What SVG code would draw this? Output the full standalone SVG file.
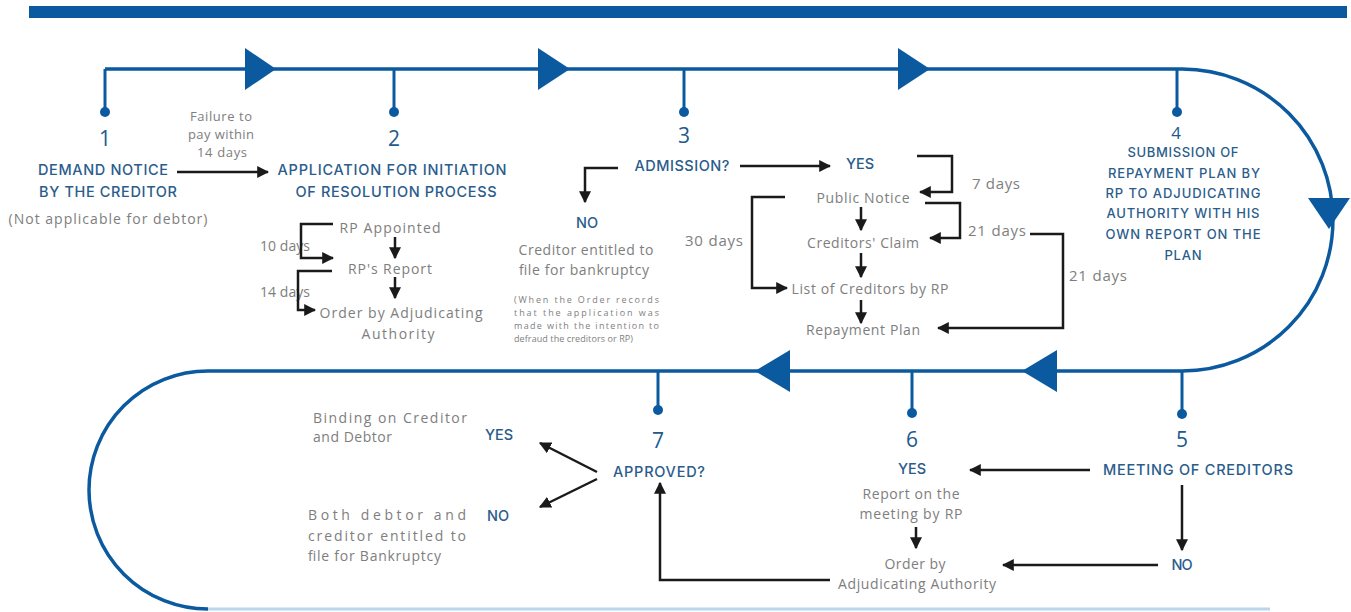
<svg xmlns="http://www.w3.org/2000/svg" width="1351" height="612" viewBox="0 0 1351 612">
<style>
text{font-family:"Open Sans","Liberation Sans",sans-serif;dominant-baseline:central;text-anchor:middle}
.h{fill:#2b5d8c;font-family:Inter,"Open Sans",sans-serif;font-weight:500;font-size:14.5px}
.h4{fill:#2b5d8c;font-family:Inter,"Open Sans",sans-serif;font-weight:500;font-size:13px}
.num{fill:#215a8e;font-size:21px}
.g{fill:#7e7e7e;font-size:14px}
.gs{fill:#7e7e7e;font-size:13px}
.gd{fill:#7e7e7e;font-size:15px}
.note{fill:#808080;font-size:9px}
.l{text-anchor:start}
.trk{fill:none;stroke:#0b5aa0;stroke-width:3.5}
.stem{stroke:#0b5aa0;stroke-width:3}
.dot{fill:#0b5aa0}
.tri{fill:#0b5aa0}
.ca{fill:none;stroke:#1a1a1a;stroke-width:2.5;marker-end:url(#ah)}
</style>
<defs>
<marker id="ah" viewBox="0 0 10 10" refX="9" refY="5" markerWidth="12" markerHeight="12" markerUnits="userSpaceOnUse" orient="auto">
<path d="M0,0 L10,5 L0,10 z" fill="#1a1a1a"/>
</marker>
</defs>
<rect width="1351" height="612" fill="#ffffff"/>
<rect x="29" y="6" width="1318" height="12" fill="#0b5aa0"/>

<g id="track">
<path class="trk" d="M105,69 H1182 A151,151 0 0 1 1182,371 H208 A119,119 0 0 0 208,609"/>
<path d="M208,609 H1270" fill="none" stroke="#b9d5ef" stroke-width="3"/>
<polygon class="tri" points="245,48 245,90 276,69"/>
<polygon class="tri" points="538,48 538,90 570,69"/>
<polygon class="tri" points="898,48 898,90 930,69"/>
<polygon class="tri" points="1308,198 1350,198 1329,229"/>
<polygon class="tri" points="1022,371 1057,350 1057,392"/>
<polygon class="tri" points="755,371 790,350 790,392"/>
</g>

<g id="node1">
<line class="stem" x1="105" y1="69" x2="105" y2="112"/><circle class="dot" cx="105" cy="112" r="5"/>
<text class="num" x="105" y="138">1</text>
<text class="h" x="103" y="169" textLength="130">DEMAND NOTICE</text>
<text class="h" x="108" y="191" textLength="138">BY THE CREDITOR</text>
<text class="g" x="108" y="218" textLength="199">(Not applicable for debtor)</text>
</g>

<g id="label-failure">
<text class="gs" x="221" y="116" textLength="62">Failure to</text>
<text class="gs" x="221" y="134" textLength="66">pay within</text>
<text class="gs" x="222" y="152" textLength="50">14 days</text>
</g>

<g id="node2">
<line class="stem" x1="394" y1="69" x2="394" y2="112"/><circle class="dot" cx="394" cy="112" r="5"/>
<text class="num" x="394" y="138">2</text>
<text class="h" x="392" y="169" textLength="229">APPLICATION FOR INITIATION</text>
<text class="h" x="396" y="191" textLength="201">OF RESOLUTION PROCESS</text>
</g>
<g id="rp-appointed"><text class="g" x="390" y="227" textLength="101">RP Appointed</text></g>
<g id="rp-report"><text class="g" x="390" y="268" textLength="84">RP's Report</text></g>
<g id="order-aa-1">
<text class="g" x="401" y="312" textLength="163">Order by Adjudicating</text>
<text class="g" x="398" y="333" textLength="73">Authority</text>
</g>
<g id="label-days-2">
<text class="g" x="285" y="245" textLength="50">10 days</text>
<text class="g" x="285" y="291" textLength="50">14 days</text>
</g>

<g id="node3">
<line class="stem" x1="684" y1="69" x2="684" y2="112"/><circle class="dot" cx="684" cy="112" r="5"/>
<text class="num" x="684" y="135">3</text>
<text class="h" x="682" y="165" textLength="95">ADMISSION?</text>
</g>
<g id="no-3">
<text class="h" x="587" y="222" textLength="22">NO</text>
<text class="g" x="586" y="249" textLength="135">Creditor entitled to</text>
<text class="g" x="584" y="269" textLength="130">file for bankruptcy</text>
<text class="note l" x="514" y="299" textLength="145">(When the Order records</text>
<text class="note l" x="514" y="312" textLength="145">that the application was</text>
<text class="note l" x="514" y="325" textLength="145">made with the intention to</text>
<text class="note l" x="514" y="338" textLength="119">defraud the creditors or RP)</text>
</g>
<g id="yes-3"><text class="h" x="860" y="163" textLength="28">YES</text></g>
<g id="public-notice"><text class="g" x="863" y="197" textLength="93">Public Notice</text></g>
<g id="creditors-claim"><text class="g" x="863" y="242" textLength="112">Creditors' Claim</text></g>
<g id="list-creditors"><text class="g" x="870" y="288" textLength="157">List of Creditors by RP</text></g>
<g id="repayment-plan"><text class="g" x="863" y="329" textLength="114">Repayment Plan</text></g>
<g id="label-days-3">
<text class="gd" x="714" y="240" textLength="58">30 days</text>
<text class="gd" x="996" y="183" textLength="48">7 days</text>
<text class="gd" x="997" y="230" textLength="58">21 days</text>
<text class="gd" x="1098" y="275" textLength="58">21 days</text>
</g>

<g id="node4">
<line class="stem" x1="1177" y1="69" x2="1177" y2="112"/><circle class="dot" cx="1177" cy="112" r="5"/>
<text class="num" x="1176" y="132" style="font-size:17px">4</text>
<text class="h4" x="1183" y="152" textLength="111">SUBMISSION OF</text>
<text class="h4" x="1184" y="173" textLength="152">REPAYMENT PLAN BY</text>
<text class="h4" x="1183" y="193" textLength="155">RP TO ADJUDICATING</text>
<text class="h4" x="1183" y="213" textLength="153">AUTHORITY WITH HIS</text>
<text class="h4" x="1183" y="234" textLength="155">OWN REPORT ON THE</text>
<text class="h4" x="1183" y="255" textLength="37">PLAN</text>
</g>

<g id="node5">
<line class="stem" x1="1182" y1="371" x2="1182" y2="414"/><circle class="dot" cx="1182" cy="414" r="5"/>
<text class="num" x="1182" y="439">5</text>
<text class="h" x="1198" y="469" textLength="190">MEETING OF CREDITORS</text>
</g>
<g id="no-5"><text class="h" x="1182" y="564" textLength="21">NO</text></g>

<g id="node6">
<line class="stem" x1="912" y1="371" x2="912" y2="413"/><circle class="dot" cx="912" cy="413" r="5"/>
<text class="num" x="912" y="439">6</text>
<text class="h" x="912" y="468" textLength="28">YES</text>
<text class="g" x="911" y="493" textLength="97">Report on the</text>
<text class="g" x="911" y="513" textLength="103">meeting by RP</text>
</g>
<g id="order-aa-2">
<text class="g" x="915" y="563" textLength="61">Order by</text>
<text class="g" x="917" y="583" textLength="158">Adjudicating Authority</text>
</g>

<g id="node7">
<line class="stem" x1="658" y1="371" x2="658" y2="410"/><circle class="dot" cx="658" cy="410" r="5"/>
<text class="num" x="658" y="440">7</text>
<text class="h" x="659" y="471" textLength="92">APPROVED?</text>
</g>
<g id="yes-7">
<text class="h" x="499" y="434" textLength="28">YES</text>
<text class="g l" x="313" y="417" textLength="154">Binding on Creditor</text>
<text class="g l" x="313" y="436" textLength="79">and Debtor</text>
</g>
<g id="no-7">
<text class="h" x="498" y="515" textLength="22">NO</text>
<text class="g l" x="308" y="514" textLength="158">Both debtor and</text>
<text class="g l" x="308" y="535" textLength="158">creditor entitled to</text>
<text class="g l" x="308" y="555" textLength="133">file for Bankruptcy</text>
</g>

<g id="connectors">
<path class="ca" d="M177,172 H268"/>
<path class="ca" d="M395,237 V258"/>
<path class="ca" d="M395,277 V298"/>
<path class="ca" d="M333,224 H301 V258 H333"/>
<path class="ca" d="M332,271 H298 V310 H315"/>
<path class="ca" d="M618,168 H585 V202"/>
<path class="ca" d="M740,166 H830"/>
<path class="ca" d="M917,156 H952 V192 H920"/>
<path class="ca" d="M925,203 H960 V238 H930"/>
<path class="ca" d="M1030,234 H1063 V328 H938"/>
<path class="ca" d="M785,197 H752 V288 H787"/>
<path class="ca" d="M861,207 V230"/>
<path class="ca" d="M861,253 V277"/>
<path class="ca" d="M861,300 V323"/>
<path class="ca" d="M1090,470 H970"/>
<path class="ca" d="M1182,485 V550"/>
<path class="ca" d="M1158,565 H1003"/>
<path class="ca" d="M916,527 V548"/>
<path class="ca" d="M830,580 H660 V483"/>
<path class="ca" d="M597,472 L540,443"/>
<path class="ca" d="M597,479 L540,507"/>
</g>
</svg>
